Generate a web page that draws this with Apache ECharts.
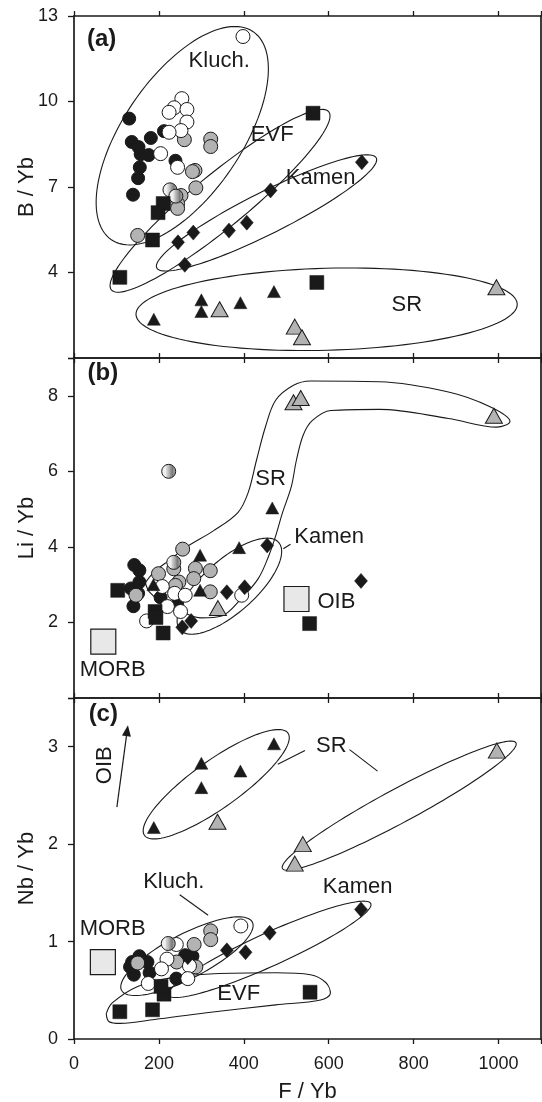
<!DOCTYPE html>
<html><head><meta charset="utf-8">
<script src="https://cdn.jsdelivr.net/npm/echarts@6/dist/echarts.min.js"></script>
<style>html,body{margin:0;padding:0;background:#fff}#c{width:542px;height:1102px}</style>
</head><body><div id="c"></div>
<script>
// ---------- axis ticks ----------
const xTicks = [0, 200, 400, 600, 800, 1000];
const yTicksA = [4, 7, 10, 13];
const yTicksB = [2, 4, 6, 8];
const yTicksC = [0, 1, 2, 3];

// ---------- panel (a): F/Yb vs B/Yb ----------
const blackCirclesA = [[130,9.4],[136,8.58],[152,8.4],[157,8.15],[176,8.12],[181,8.72],[212,8.96],[155,7.69],[151,7.31],[139,6.73],[239,7.92]];
const grayCirclesA = [[260,8.66],[322,8.68],[322,8.42],[285,7.58],[279,7.54],[287,6.97],[252,6.7],[244,6.42],[244,6.25],[150,5.3]];
const whiteCirclesA = [[398,12.28],[254,10.1],[236,9.78],[266,9.72],[224,9.62],[266,9.28],[252,8.98],[224,8.92],[204,8.17],[244,7.69]];
const stripedA = [[226,6.9],[240,6.68]];
const squaresA = [[563,9.59],[210,6.42],[198,6.1],[185,5.14],[108,3.83],[572,3.65]];
const diamondsA = [[678,7.87],[463,6.88],[407,5.75],[365,5.47],[281,5.4],[245,5.06],[261,4.27]];
const blackTriA = [[188,2.36],[300,3.04],[300,2.63],[392,2.94],[471,3.33]];
const grayTriA = [[343,2.71],[520,2.1],[537,1.73],[995,3.48]];
// ellipses: major-axis ends (x1,y1,x2,y2) and minor/major ratio
const ellipsesA = [[88,5.15,422,12.45,0.47],[88,3.39,600,9.64,0.19],[195,4.16,712,8.02,0.171],[146,2.53,1044,2.89,0.215]];
const textA = [['(a)',65,12.19,1],['Kluch.',342,11.41,0],['EVF',467,8.83,0],['Kamen',581,7.31,0],['SR',784,2.86,0]];

// ---------- panel (b): F/Yb vs Li/Yb ----------
const blackCirclesB = [[142,3.52],[154,3.38],[154,3.07],[134,2.9],[151,2.77],[140,2.43],[204,2.66],[243,2.47]];
const grayCirclesB = [[256,3.94],[199,3.29],[286,3.43],[321,3.37],[235,3.42],[247,3.07],[282,3.16],[239,2.98],[321,2.81],[146,2.72]];
const whiteCirclesB = [[208,2.95],[237,2.77],[262,2.72],[220,2.42],[251,2.29],[171,2.04],[395,2.72]];
const stripedB = [[223,6.0],[235,3.59]];
const squaresB = [[103,2.85],[191,2.29],[193,2.13],[210,1.72],[555,1.97]];
const diamondsB = [[455,4.04],[676,3.1],[402,2.93],[360,2.8],[276,2.04],[255,1.87]];
const blackTriB = [[467,5.03],[389,3.98],[297,3.78],[297,2.85],[187,3.0]];
const grayTriB = [[517,7.83],[534,7.94],[989,7.47],[339,2.38]];
const refB = [[69,1.49],[524,2.62]]; // MORB, OIB
const ellipsesB = [[250,1.8,482,4.12,0.4]];
const srOutlineB = [[168,3.05],[190,3.35],[225,3.65],[264,3.99],[329,4.43],[386,4.91],[410,5.43],[430,6.3],[451,7.18],[475,7.88],[516,8.27],[557,8.39],[719,8.37],[882,8.1],[980,7.71],[1027,7.32],[996,7.17],[882,7.4],[719,7.64],[605,7.61],[561,7.34],[540,6.96],[524,6.3],[512,5.6],[491,4.9],[475,4.29],[459,3.77],[434,3.16],[394,2.63],[348,2.17],[300,2.12],[250,2.3],[205,2.55],[178,2.8]];
const textB = [['(b)',68,8.59,1],['SR',463,5.79,0],['Kamen',601,4.26,0],['OIB',618,2.53,0],['MORB',91,0.73,0]];
const leadersB = [[493,3.95,510,4.07]];

// ---------- panel (c): F/Yb vs Nb/Yb ----------
const blackCirclesC = [[154,0.85],[173,0.79],[137,0.79],[141,0.66],[178,0.68],[241,0.62],[262,0.86],[279,0.85],[132,0.74]];
const grayCirclesC = [[322,1.11],[322,1.02],[283,0.97],[242,0.79],[287,0.74],[150,0.78]];
const whiteCirclesC = [[393,1.16],[241,0.97],[219,0.82],[206,0.72],[272,0.75],[268,0.62],[175,0.57]];
const stripedC = [[222,0.98]];
const squaresC = [[108,0.28],[185,0.3],[212,0.46],[205,0.54],[556,0.48]];
const diamondsC = [[676,1.33],[461,1.09],[360,0.91],[404,0.89],[268,0.84]];
const blackTriC = [[188,2.17],[300,2.83],[300,2.58],[392,2.75],[471,3.03]];
const grayTriC = [[338,2.23],[539,2.0],[520,1.8],[996,2.96]];
const refC = [[68,0.79]]; // MORB
const ellipsesC = [[166,2.09,504,3.14,0.27],[491,1.75,1041,3.04,0.128],[223,0.45,699,1.39,0.149],[112,0.5,420,1.2,0.3]];
const evfOutlineC = [[76,0.26],[90,0.37],[150,0.54],[231,0.63],[329,0.67],[475,0.68],[557,0.66],[593,0.58],[604,0.47],[581,0.4],[475,0.35],[312,0.27],[190,0.2],[109,0.16],[82,0.18]];
const textC = [['(c)',69,3.33,1],['SR',606,3.01,0],['Kluch.',235,1.61,0],['Kamen',668,1.56,0],['MORB',91,1.13,0],['EVF',388,0.46,0]];
const leadersC = [[544,2.96,480,2.82],[649,2.97,715,2.75],[249,1.48,316,1.27]];
const arrowC = [[101,2.38,127,3.22]];
const arrowTextC = [['OIB',72,2.81]];

// ---------- rendering ----------
const FONT = '"Liberation Sans", Arial, Helvetica, sans-serif';
const INK = '#1a1a1a';
const pc = document.createElement('canvas'); pc.width = 3; pc.height = 3;
const pctx = pc.getContext('2d');
pctx.fillStyle = '#f0f0f0'; pctx.fillRect(0,0,3,3);
pctx.fillStyle = '#7a7a7a'; pctx.fillRect(0,0,1,3);
const stripe = {image: pc, repeat: 'repeat'};

const grids = [
  {left: 74, width: 467, top: 16, height: 342, outerBoundsMode: 'none', containLabel: false},
  {left: 74, width: 467, top: 358, height: 340, outerBoundsMode: 'none', containLabel: false},
  {left: 74, width: 467, top: 698, height: 341, outerBoundsMode: 'none', containLabel: false}
];
const yCfg = [
  {min: 1, max: 13, interval: 3, ticks: yTicksA, name: 'B / Yb'},
  {min: 0, max: 9, interval: 2, ticks: yTicksB, name: 'Li / Yb'},
  {min: 0, max: 3.5, interval: 1, ticks: yTicksC, name: 'Nb / Yb'}
];
const lineSt = {color: INK, width: 1.7};
const tickSt = {color: INK, width: 1.3};
const xAxes = [], yAxes = [];
grids.forEach((g, i) => {
  [ 'bottom', 'top' ].forEach(pos => {
    const showLab = (i === 2 && pos === 'bottom');
    xAxes.push({
      type: 'value', gridIndex: i, position: pos, min: 0, max: 1100, interval: 200,
      axisLine: {show: true, onZero: false, lineStyle: lineSt},
      axisTick: {show: true, inside: false, length: 5, lineStyle: tickSt},
      axisLabel: {show: showLab, margin: 16, fontSize: 18, fontFamily: FONT, color: INK,
        formatter: v => xTicks.includes(v) ? String(v) : ''},
      splitLine: {show: false},
      name: showLab ? 'F / Yb' : '', nameLocation: 'middle', nameGap: 42, nameMoveOverlap: false,
      nameTextStyle: {fontSize: 22, fontFamily: FONT, color: INK}
    });
  });
  const c = yCfg[i];
  yAxes.push({
    type: 'value', gridIndex: i, min: c.min, max: c.max, interval: c.interval,
    axisLine: {show: true, onZero: false, lineStyle: lineSt},
    axisTick: {show: true, inside: false, length: 6, lineStyle: tickSt},
    axisLabel: {margin: 16, fontSize: 18, fontFamily: FONT, color: INK,
      formatter: v => c.ticks.includes(v) ? String(v) : ''},
    splitLine: {show: false},
    name: c.name, nameLocation: 'middle', nameGap: 36, nameRotate: 90, nameMoveOverlap: false,
    nameTextStyle: {fontSize: 22, fontFamily: FONT, color: INK}
  });
  // right border axis
  yAxes.push({
    type: 'value', gridIndex: i, position: 'right', min: c.min, max: c.max,
    axisLine: {show: true, onZero: false, lineStyle: lineSt},
    axisTick: {show: false}, axisLabel: {show: false}, splitLine: {show: false}
  });
});

function scatter(gi, data, symbol, size, color, bw, z) {
  return {type: 'scatter', xAxisIndex: gi * 2, yAxisIndex: gi * 2, data: data,
    symbol: symbol, symbolSize: size, silent: true, z: z,
    itemStyle: {color: color, borderColor: INK, borderWidth: bw, opacity: 1}};
}
function ellipseSeries(gi, data) {
  return {type: 'custom', xAxisIndex: gi * 2, yAxisIndex: gi * 2, data: data, silent: true, z: 1,
    encode: {x: [0, 2], y: [1, 3]},
    renderItem: function (params, api) {
      const p1 = api.coord([api.value(0), api.value(1)]);
      const p2 = api.coord([api.value(2), api.value(3)]);
      const r = api.value(4);
      const cx = (p1[0] + p2[0]) / 2, cy = (p1[1] + p2[1]) / 2;
      const dx = p2[0] - p1[0], dy = p2[1] - p1[1];
      const a = Math.sqrt(dx * dx + dy * dy) / 2, b = a * r;
      const th = Math.atan2(dy, dx), ct = Math.cos(th), st = Math.sin(th);
      const pts = [];
      for (let k = 0; k < 120; k++) {
        const t = k / 120 * Math.PI * 2;
        const u = a * Math.cos(t), v = b * Math.sin(t);
        pts.push([cx + u * ct - v * st, cy + u * st + v * ct]);
      }
      return {type: 'polygon', shape: {points: pts}, style: {fill: null, stroke: INK, lineWidth: 1.1}};
    }};
}
function outlineSeries(gi, pts) {
  return {type: 'line', xAxisIndex: gi * 2, yAxisIndex: gi * 2, data: pts.concat([pts[0]]),
    smooth: 0.35, symbol: 'none', silent: true, z: 1,
    lineStyle: {color: INK, width: 1.1}};
}
function textSeries(gi, items, rot) {
  return {type: 'custom', xAxisIndex: gi * 2, yAxisIndex: gi * 2, silent: true, z: 5,
    data: items.map(d => [d[1], d[2]]),
    renderItem: function (params, api) {
      const it = items[params.dataIndex];
      const p = api.coord([api.value(0), api.value(1)]);
      const bold = it[3] === 1;
      return {type: 'text', x: p[0], y: p[1], rotation: rot || 0,
        style: {text: it[0], fontSize: bold ? 24 : 22, fontWeight: bold ? 'bold' : 'normal',
          fontFamily: FONT, fill: INK, align: 'center', verticalAlign: 'middle'}};
    }};
}
function leaderSeries(gi, items, arrow) {
  return {type: 'custom', xAxisIndex: gi * 2, yAxisIndex: gi * 2, silent: true, z: 5,
    data: items, encode: {x: [0, 2], y: [1, 3]},
    renderItem: function (params, api) {
      const p1 = api.coord([api.value(0), api.value(1)]);
      const p2 = api.coord([api.value(2), api.value(3)]);
      const children = [];
      if (arrow) {
        const dx = p2[0] - p1[0], dy = p2[1] - p1[1], L = Math.sqrt(dx * dx + dy * dy);
        const ux = dx / L, uy = dy / L, hl = 11, hw = 4.5;
        const bx = p2[0] - ux * hl, by = p2[1] - uy * hl;
        children.push({type: 'line', shape: {x1: p1[0], y1: p1[1], x2: bx, y2: by}, style: {stroke: INK, lineWidth: 1.2}});
        children.push({type: 'polygon', shape: {points: [[p2[0], p2[1]], [bx - uy * hw, by + ux * hw], [bx + uy * hw, by - ux * hw]]}, style: {fill: INK}});
      } else {
        children.push({type: 'line', shape: {x1: p1[0], y1: p1[1], x2: p2[0], y2: p2[1]}, style: {stroke: INK, lineWidth: 1.1}});
      }
      return {type: 'group', children: children};
    }};
}

const GRAY = '#b3b3b3', REF = '#e8e8e8';
function panelSeries(gi, s) {
  const out = [];
  if (s.ref) out.push(scatter(gi, s.ref, 'rect', 25, REF, 1.2, 2));
  out.push(scatter(gi, s.black, 'circle', 13, INK, 1, 3));
  out.push(scatter(gi, s.gray, 'circle', 14, GRAY, 1, 3));
  out.push(scatter(gi, s.white, 'circle', 14, '#ffffff', 1, 3));
  out.push(scatter(gi, s.striped, 'circle', 14, stripe, 1, 3));
  out.push(scatter(gi, s.squares, 'rect', 14, INK, 0.5, 3));
  out.push(scatter(gi, s.diamonds, 'diamond', [13, 15], INK, 0.5, 3));
  out.push(scatter(gi, s.btri, 'triangle', [13, 12], INK, 0.5, 3));
  out.push(scatter(gi, s.gtri, 'triangle', [17, 15], GRAY, 1, 3));
  return out;
}

const series = [].concat(
  ellipseSeries(0, ellipsesA),
  panelSeries(0, {black: blackCirclesA, gray: grayCirclesA, white: whiteCirclesA, striped: stripedA, squares: squaresA, diamonds: diamondsA, btri: blackTriA, gtri: grayTriA}),
  textSeries(0, textA),
  ellipseSeries(1, ellipsesB), outlineSeries(1, srOutlineB),
  panelSeries(1, {ref: refB, black: blackCirclesB, gray: grayCirclesB, white: whiteCirclesB, striped: stripedB, squares: squaresB, diamonds: diamondsB, btri: blackTriB, gtri: grayTriB}),
  textSeries(1, textB), leaderSeries(1, leadersB, false),
  ellipseSeries(2, ellipsesC), outlineSeries(2, evfOutlineC),
  panelSeries(2, {ref: refC, black: blackCirclesC, gray: grayCirclesC, white: whiteCirclesC, striped: stripedC, squares: squaresC, diamonds: diamondsC, btri: blackTriC, gtri: grayTriC}),
  textSeries(2, textC), leaderSeries(2, leadersC, false), leaderSeries(2, arrowC, true),
  textSeries(2, arrowTextC, Math.PI / 2)
);

const chart = echarts.init(document.getElementById('c'), null, {renderer: 'canvas'});
chart.setOption({
  animation: false,
  backgroundColor: '#ffffff',
  grid: grids,
  xAxis: xAxes,
  yAxis: yAxes,
  series: series
});
</script></body></html>
